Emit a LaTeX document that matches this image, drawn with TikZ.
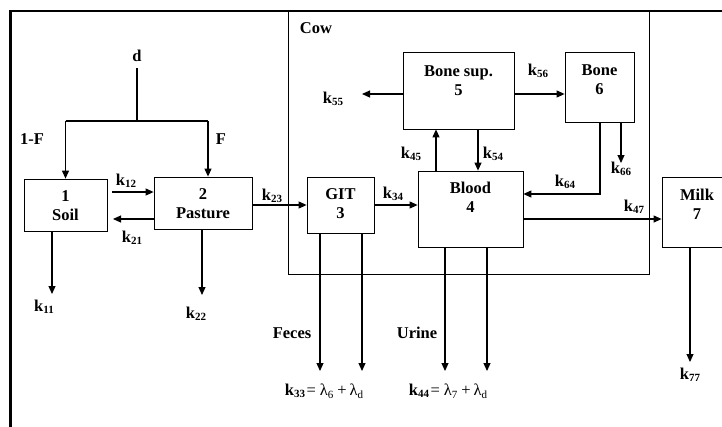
\documentclass[tikz,border=0pt]{standalone}
\usepackage{fontspec}
\setmainfont{Liberation Serif}
\usetikzlibrary{arrows.meta}
\newcommand\kk[1]{\textbf{k}\raisebox{-2pt}{\fontsize{11}{11}\selectfont\bfseries #1}}
\newcommand\lsub[1]{\raisebox{-3pt}{\fontsize{11}{11}\selectfont\mdseries #1}}
\begin{document}
\begin{tikzpicture}[x=1pt,y=-1pt,
  box/.style={draw, line width=0.8pt, inner sep=0pt},
  txt/.style={font=\fontsize{16.5}{19}\selectfont\bfseries, align=center, inner sep=0pt},
  lbl/.style={font=\fontsize{16.5}{19}\selectfont\bfseries, inner sep=0pt},
  ln/.style={line width=1.1pt},
  arr/.style={line width=1.1pt, -{Triangle[length=8pt,width=7pt]}}]
\useasboundingbox (0,0) rectangle (722,426);
\clip (0,0) rectangle (722,426);
% outer frame
\draw[line width=2.2pt] (10.5,430) -- (10.5,11) -- (730,11);
% cow box
\node[box, minimum width=361pt, minimum height=263pt] (cow) at (468.5,142.5) {};
\node[lbl] (cowt) at (316,28) {Cow};
% compartments
\node[box, minimum width=83pt, minimum height=52pt] (soil) at (65.5,205) {};
\node[txt] (soilt) at (65.5,206) {1\\Soil};
\node[box, minimum width=98pt, minimum height=52pt] (pasture) at (203,203) {};
\node[txt] (pasturet) at (203,204) {2\\Pasture};
\node[box, minimum width=67pt, minimum height=56pt] (git) at (340.5,205) {};
\node[txt] (gitt) at (340.5,204) {GIT\\3};
\node[box, minimum width=105pt, minimum height=76pt] (blood) at (470.5,209) {};
\node[txt] (bloodt) at (470.5,197.5) {Blood\\4};
\node[box, minimum width=111pt, minimum height=77pt] (bonesup) at (458.5,90.5) {};
\node[txt] (bonesupt) at (458.5,80.5) {Bone sup.\\5};
\node[box, minimum width=69pt, minimum height=70pt] (bone) at (599.5,87) {};
\node[txt] (bonet) at (599.5,80) {Bone\\6};
\node[box, minimum width=70pt, minimum height=70pt] (milk) at (697,212) {};
\node[txt] (milkt) at (697,204.5) {Milk\\7};
% deposition
\node[lbl] (d) at (137,56) {d};
\coordinate (dj) at (137,121);
\coordinate (dl) at (65.5,121);
\coordinate (dr) at (208,121);
\draw[ln] ([yshift=-6pt]d.south) -- (dj);
\draw[ln] (dl) -- (dr);
\draw[arr] (dl) -- (soil.north);
\draw[arr] (dr) -- (dr |- pasture.north);
\node[lbl] (oneF) at (32,139) {1-F};
\node[lbl] (F) at (221,139) {F};
% soil <-> pasture
\coordinate (k12s) at (112,192);
\draw[arr] (k12s) -- (pasture.west |- k12s);
\node[lbl] (k12) at (126,181) {\kk{12}};
\coordinate (k21e) at (113,219);
\draw[arr] (pasture.west |- k21e) -- (k21e);
\node[lbl] (k21) at (132,238) {\kk{21}};
% losses soil/pasture
\coordinate (k11e) at (52,294);
\draw[arr] (soil.south -| k11e) -- (k11e);
\node[lbl] (k11) at (44,307) {\kk{11}};
\coordinate (k22e) at (202,295);
\draw[arr] (pasture.south -| k22e) -- (k22e);
\node[lbl] (k22) at (196,314) {\kk{22}};
% pasture -> GIT
\draw[arr] (git.west -| pasture.east) -- (git.west);
\node[lbl] (k23) at (272,196) {\kk{23}};
% GIT -> blood
\draw[arr] (git.east) -- (git.east -| blood.west);
\node[lbl] (k34) at (393,194) {\kk{34}};
% bone sup
\coordinate (y94) at (0,94);
\coordinate (k55e) at (362,94);
\draw[arr] (bonesup.west |- k55e) -- (k55e);
\node[lbl] (k55) at (333,99) {\kk{55}};
\draw[arr] (bonesup.east |- y94) -- (bone.west |- y94);
\node[lbl] (k56) at (538,71) {\kk{56}};
\coordinate (x436) at (436,0);
\coordinate (x478) at (478,0);
\draw[arr] (blood.north -| x436) -- (bonesup.south -| x436);
\node[lbl] (k45) at (411,154) {\kk{45}};
\draw[arr] (bonesup.south -| x478) -- (blood.north -| x478);
\node[lbl] (k54) at (493,154) {\kk{54}};
% bone
\coordinate (k66e) at (621,163);
\draw[arr] (bone.south -| k66e) -- (k66e);
\node[lbl] (k66) at (621,169) {\kk{66}};
\coordinate (k64c) at (600,194);
\draw[arr] (bone.south -| k64c) -- (k64c) -- (blood.east |- k64c);
\node[lbl] (k64) at (565,182) {\kk{64}};
% milk
\coordinate (y219) at (0,219);
\draw[arr] (blood.east |- y219) -- (milk.west |- y219);
\node[lbl] (k47) at (634,207) {\kk{47}};
\coordinate (k77e) at (690,362);
\draw[arr] (milk.south -| k77e) -- (k77e);
\node[lbl] (k77) at (690,375) {\kk{77}};
% feces / urine
\coordinate (f1) at (320,371);
\coordinate (f2) at (362,371);
\draw[arr] (git.south -| f1) -- (f1);
\draw[arr] (git.south -| f2) -- (f2);
\node[lbl] (feces) at (292,333) {Feces};
\coordinate (u1) at (445,371);
\coordinate (u2) at (487,371);
\draw[arr] (blood.south -| u1) -- (u1);
\draw[arr] (blood.south -| u2) -- (u2);
\node[lbl] (urine) at (417,333) {Urine};
\node[lbl] (k33) at (324,391) {\kk{33}{\mdseries\kern1.5pt=\kern4pt λ\lsub{6}\kern4pt+\kern3pt λ\lsub{d}}};
\node[lbl] (k44) at (448,391) {\kk{44}{\mdseries\kern1.5pt=\kern4pt λ\lsub{7}\kern4pt+\kern3pt λ\lsub{d}}};
\end{tikzpicture}
\end{document}
